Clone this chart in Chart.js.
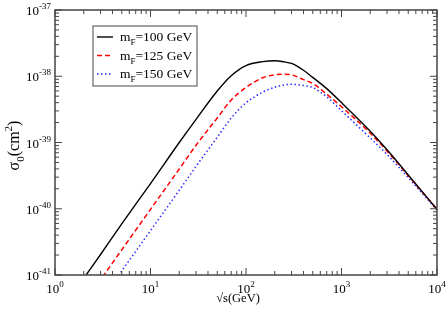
<!DOCTYPE html>
<html>
<head>
<meta charset="utf-8">
<script src="https://cdn.jsdelivr.net/npm/chart.js@4/dist/chart.umd.min.js"></script>
<style>
html,body{margin:0;padding:0;background:#fff;}
canvas{display:block;}
</style>
</head>
<body>
<canvas id="c" width="447" height="314"></canvas>
<script>
// ---- data ----
const sqrtS = [2, 3, 5, 10, 20, 30, 50, 70, 100, 150, 200, 250, 300, 400, 500, 700, 1000, 2000, 3000, 5000, 10000];
const sigmaMF100 = [8.9e-42, 2.04e-41, 5.9e-41, 2.4e-40, 1.0e-39, 2.24e-39, 6.0e-39, 1.02e-38, 1.45e-38, 1.66e-38, 1.71e-38, 1.65e-38, 1.56e-38, 1.23e-38, 9.6e-39, 6.5e-39, 4.0e-39, 1.48e-39, 7.76e-40, 3.24e-40, 9.8e-41];
const sigmaMF125 = [3.8e-42, 8.5e-42, 2.4e-41, 9.8e-41, 3.98e-40, 9.1e-40, 2.34e-39, 4.37e-39, 6.76e-39, 9.5e-39, 1.05e-38, 1.07e-38, 1.05e-38, 8.9e-39, 7.76e-39, 5.37e-39, 3.47e-39, 1.38e-39, 7.41e-40, 3.16e-40, 9.8e-41];
const sigmaMF150 = [1.78e-42, 4.07e-42, 1.15e-41, 4.68e-41, 1.9e-40, 4.37e-40, 1.2e-39, 2.34e-39, 3.98e-39, 5.75e-39, 6.84e-39, 7.4e-39, 7.55e-39, 7.24e-39, 6.76e-39, 4.9e-39, 3.02e-39, 1.17e-39, 6.6e-40, 2.95e-40, 9.55e-41];
const seriesMasses = ['100', '125', '150'];
const xMajorTicks = [1, 10, 100, 1000, 10000];
const xTickExponents = ['0', '1', '2', '3', '4'];
const yMajorTicks = [1e-41, 1e-40, 1e-39, 1e-38, 1e-37];
const yTickExponents = ['-41', '-40', '-39', '-38', '-37'];

const FONT = '"Liberation Serif", "Times New Roman", serif';

function pts(ys) { return sqrtS.map((x, i) => ({x: x, y: ys[i]})); }

function richWidth(ctx, segs, size) {
  let w = 0;
  for (const s of segs) {
    ctx.font = (s.k ? Math.round(size * 0.68) : size) + 'px ' + FONT;
    w += ctx.measureText(s.t).width;
  }
  return w;
}
function drawRich(ctx, segs, x, y, size) {
  let cx = x;
  for (const s of segs) {
    const fs = s.k ? Math.round(size * 0.68) : size;
    ctx.font = fs + 'px ' + FONT;
    let dy = 0;
    if (s.k === 'sup') dy = -size * 0.45;
    if (s.k === 'sub') dy = size * 0.3;
    ctx.textAlign = 'left';
    ctx.textBaseline = 'alphabetic';
    ctx.fillText(s.t, cx, y + dy);
    cx += ctx.measureText(s.t).width;
  }
  return cx;
}

const framePlugin = {
  id: 'frame',
  afterDraw(chart) {
    const ctx = chart.ctx;
    const a = chart.chartArea;
    const xs = chart.scales.x, ys = chart.scales.y;
    ctx.save();
    ctx.strokeStyle = '#444';
    ctx.fillStyle = '#000';
    ctx.lineWidth = 1.5;
    ctx.setLineDash([]);
    ctx.strokeRect(a.left, a.top, a.right - a.left, a.bottom - a.top);

    const majorLen = 7, minorLen = 4;
    ctx.lineWidth = 1;
    for (let d = 0; d < xMajorTicks.length; d++) {
      const base = xMajorTicks[d];
      for (let m = 1; m <= 9; m++) {
        const v = base * m;
        if (v > xs.max * 1.0001) break;
        const px = xs.getPixelForValue(v);
        const len = m === 1 ? majorLen : minorLen;
        ctx.beginPath();
        ctx.moveTo(px, a.bottom); ctx.lineTo(px, a.bottom - len);
        ctx.moveTo(px, a.top); ctx.lineTo(px, a.top + len);
        ctx.stroke();
      }
    }
    for (let d = 0; d < yMajorTicks.length; d++) {
      const base = yMajorTicks[d];
      for (let m = 1; m <= 9; m++) {
        const v = base * m;
        if (v > ys.max * 1.0001) break;
        const py = ys.getPixelForValue(v);
        const len = m === 1 ? majorLen : minorLen;
        ctx.beginPath();
        ctx.moveTo(a.left, py); ctx.lineTo(a.left + len, py);
        ctx.moveTo(a.right, py); ctx.lineTo(a.right - len, py);
        ctx.stroke();
      }
    }
    ctx.fillStyle = '#000';
    xMajorTicks.forEach((v, i) => {
      const segs = [{t: '10'}, {t: xTickExponents[i], k: 'sup'}];
      const w = richWidth(ctx, segs, 13);
      const px = xs.getPixelForValue(v);
      drawRich(ctx, segs, px - w / 2, a.bottom + 18, 13);
    });
    yMajorTicks.forEach((v, i) => {
      const segs = [{t: '10'}, {t: yTickExponents[i], k: 'sup'}];
      const w = richWidth(ctx, segs, 13);
      const py = ys.getPixelForValue(v);
      drawRich(ctx, segs, a.left - 4 - w, py + 5, 13);
    });
    {
      const segs = [{t: '\u221As(GeV)'}];
      const w = richWidth(ctx, segs, 12.5);
      drawRich(ctx, segs, (a.left + a.right) / 2 - 8 - w / 2, a.bottom + 27, 12.5);
    }
    {
      const segs = [{t: '\u03C3'}, {t: '0', k: 'sub'}, {t: '(cm'}, {t: '2', k: 'sup'}, {t: ')'}];
      const w = richWidth(ctx, segs, 16);
      ctx.save();
      ctx.translate(19, (a.top + a.bottom) / 2 + 3);
      ctx.rotate(-Math.PI / 2);
      drawRich(ctx, segs, -w / 2, 0, 16);
      ctx.restore();
    }
    {
      const lx = a.left + 38, ly = a.top + 16, lw = 104, lh = 60;
      ctx.fillStyle = '#fff';
      ctx.fillRect(lx, ly, lw, lh);
      ctx.strokeStyle = '#666';
      ctx.lineWidth = 1.2;
      ctx.strokeRect(lx, ly, lw, lh);
      chart.data.datasets.forEach((ds, i) => {
        const yy = ly + 11 + i * 18.5;
        ctx.strokeStyle = ds.borderColor;
        ctx.lineWidth = ds.borderWidth;
        ctx.setLineDash(ds.borderDash || []);
        ctx.beginPath();
        ctx.moveTo(lx + 4, yy); ctx.lineTo(lx + 20, yy);
        ctx.stroke();
        ctx.setLineDash([]);
        ctx.fillStyle = '#000';
        drawRich(ctx, [{t: 'm'}, {t: 'F', k: 'sub'}, {t: '=' + seriesMasses[i] + ' GeV'}], lx + 27, yy + 4, 13.5);
      });
    }
    ctx.restore();
  }
};

new Chart(document.getElementById('c'), {
  type: 'line',
  data: {
    datasets: [
      {label: 'mF=100 GeV', data: pts(sigmaMF100), borderColor: '#000000', borderWidth: 1.4, borderDash: []},
      {label: 'mF=125 GeV', data: pts(sigmaMF125), borderColor: '#ff0000', borderWidth: 1.5, borderDash: [5, 3]},
      {label: 'mF=150 GeV', data: pts(sigmaMF150), borderColor: '#2a2aff', borderWidth: 1.5, borderDash: [1.5, 2.5]}
    ]
  },
  options: {
    responsive: false,
    animation: false,
    devicePixelRatio: 1,
    layout: {padding: {left: 55, right: 10, top: 10, bottom: 39}},
    elements: {point: {radius: 0}, line: {cubicInterpolationMode: 'monotone', fill: false}},
    datasets: {line: {clip: 0}},
    plugins: {legend: {display: false}, tooltip: {enabled: false}},
    scales: {
      x: {type: 'logarithmic', min: 1, max: 10000, display: false},
      y: {type: 'logarithmic', min: 1e-41, max: 1e-37, display: false}
    }
  },
  plugins: [framePlugin]
});
</script>
</body>
</html>
